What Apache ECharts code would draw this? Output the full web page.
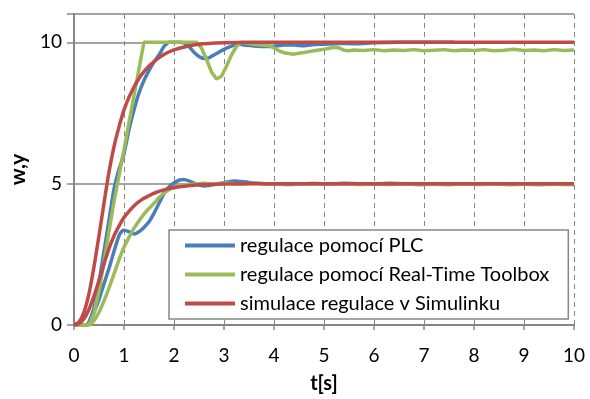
<!DOCTYPE html>
<html>
<head>
<meta charset="utf-8">
<script src="https://cdn.jsdelivr.net/npm/echarts@6/dist/echarts.min.js"></script>
<style>
  html, body { margin: 0; padding: 0; background: #fff; }
  #chart { width: 590px; height: 399px; }
</style>
</head>
<body>
<div id="chart"></div>
<script>
// series names (legend)
const NAME_PLC = "regulace pomocí PLC";
const NAME_RTT = "regulace pomocí Real-Time Toolbox";
const NAME_SIM = "simulace regulace v Simulinku";

// axis ticks
const X_TICKS = [0, 1, 2, 3, 4, 5, 6, 7, 8, 9, 10];
const Y_TICKS = [0, 5, 10];

// [t, value] pairs
const PLC_10 = [
  [0, 0], [0.25, 0], [0.3, 0.1], [0.4, 0.6], [0.5, 1.5], [0.6, 2.6], [0.7, 3.7],
  [0.8, 4.8], [0.9, 5.5], [1.0, 6.05], [1.1, 6.9], [1.2, 7.6], [1.3, 8.2],
  [1.4, 8.65], [1.5, 9.0], [1.6, 9.3], [1.7, 9.55], [1.8, 9.85], [1.9, 10],
  [2.0, 10], [2.1, 10], [2.2, 9.98], [2.3, 9.85], [2.4, 9.65], [2.5, 9.5],
  [2.6, 9.43], [2.7, 9.45], [2.8, 9.55], [2.9, 9.65], [3.0, 9.75], [3.1, 9.83],
  [3.2, 9.9], [3.3, 9.94], [3.4, 9.9], [3.6, 9.87], [3.8, 9.85], [4.0, 9.86],
  [4.2, 9.9], [4.4, 9.9], [4.6, 9.88], [4.8, 9.92], [5.0, 9.93], [5.3, 9.96],
  [5.6, 9.95], [6.0, 9.98], [6.5, 10], [7.0, 10], [7.6, 10]
];
const PLC_5 = [
  [0, 0], [0.25, 0], [0.3, 0.08], [0.4, 0.45], [0.5, 0.9], [0.6, 1.45], [0.7, 2.0],
  [0.8, 2.6], [0.9, 3.15], [0.95, 3.3], [1.0, 3.35], [1.1, 3.3], [1.2, 3.22],
  [1.3, 3.3], [1.4, 3.45], [1.5, 3.65], [1.6, 3.95], [1.7, 4.3], [1.8, 4.65],
  [1.9, 4.88], [2.0, 5.02], [2.1, 5.12], [2.2, 5.15], [2.3, 5.1], [2.4, 5.02],
  [2.5, 4.96], [2.6, 4.92], [2.7, 4.93], [2.8, 4.97], [2.9, 5.0], [3.0, 5.03],
  [3.1, 5.07], [3.2, 5.09], [3.3, 5.08], [3.4, 5.07], [3.5, 5.04], [3.7, 5.01],
  [3.9, 4.99], [4.1, 4.98], [4.3, 4.97], [4.5, 4.99], [4.8, 5.0], [5.1, 4.99],
  [5.4, 5.01], [5.7, 5.0], [6.0, 4.99], [6.3, 5.01], [6.6, 5.0], [6.9, 4.99],
  [7.2, 5.0], [7.6, 5.0]
];
const RTT_10 = [
  [0, 0], [0.3, 0], [0.4, 0.4], [0.5, 1.2], [0.6, 2.2], [0.7, 3.3], [0.8, 4.35],
  [0.9, 5.27], [1.0, 6.2], [1.1, 7.15], [1.2, 8.1], [1.3, 9.05], [1.4, 10],
  [2.0, 10], [2.45, 10], [2.55, 9.8], [2.65, 9.4], [2.75, 8.95], [2.85, 8.7],
  [2.95, 8.8], [3.05, 9.15], [3.15, 9.55], [3.25, 9.85], [3.35, 10], [3.6, 9.93],
  [3.9, 9.88], [4.0, 9.8], [4.1, 9.7], [4.2, 9.63], [4.3, 9.6], [4.4, 9.58],
  [4.5, 9.61], [4.6, 9.64], [4.7, 9.67], [4.8, 9.7], [4.9, 9.73], [5.0, 9.75],
  [5.1, 9.79], [5.2, 9.82], [5.3, 9.8], [5.4, 9.72], [5.5, 9.7], [5.6, 9.73],
  [5.8, 9.71], [6.0, 9.74], [6.2, 9.7], [6.4, 9.73], [6.6, 9.71], [6.8, 9.74],
  [7.0, 9.7], [7.2, 9.72], [7.4, 9.74], [7.6, 9.7], [7.8, 9.73], [8.0, 9.71],
  [8.2, 9.74], [8.4, 9.7], [8.6, 9.72], [8.8, 9.75], [9.0, 9.71], [9.2, 9.73],
  [9.4, 9.7], [9.6, 9.74], [9.8, 9.71], [10, 9.73]
];
const RTT_5 = [
  [0, 0], [0.3, 0], [0.4, 0.15], [0.5, 0.45], [0.6, 0.85], [0.7, 1.3], [0.8, 1.8],
  [0.9, 2.3], [1.0, 2.75], [1.1, 3.1], [1.2, 3.42], [1.3, 3.68], [1.4, 3.92],
  [1.5, 4.12], [1.6, 4.3], [1.7, 4.5], [1.8, 4.66], [1.9, 4.78], [2.0, 4.87],
  [2.2, 4.95], [2.4, 4.98], [2.6, 5.01], [2.8, 4.99], [3.0, 5.02], [3.3, 4.99],
  [3.6, 5.01], [3.9, 4.98], [4.2, 5.0], [4.5, 4.98], [4.8, 5.01], [5.1, 4.98],
  [5.4, 5.0], [5.7, 4.97], [6.0, 4.99], [6.3, 4.97], [6.6, 4.99], [6.9, 4.96],
  [7.2, 4.98], [7.5, 4.96], [7.8, 4.99], [8.1, 4.97], [8.4, 4.99], [8.7, 4.96],
  [9.0, 4.98], [9.3, 4.96], [9.6, 4.98], [10, 4.96]
];
const SIM_10 = [
  [0, 0], [0.1, 0.1], [0.2, 0.45], [0.3, 1.1], [0.4, 2.05], [0.5, 3.15], [0.6, 4.3],
  [0.7, 5.4], [0.8, 6.3], [0.9, 7.0], [1.0, 7.6], [1.1, 8.05], [1.2, 8.42],
  [1.3, 8.72], [1.4, 8.96], [1.5, 9.15], [1.6, 9.32], [1.8, 9.57], [2.0, 9.73],
  [2.25, 9.85], [2.5, 9.93], [3.0, 9.98], [3.5, 10], [4.0, 10], [10, 10]
];
const SIM_5 = [
  [0, 0], [0.1, 0.05], [0.2, 0.22], [0.3, 0.55], [0.4, 1.02], [0.5, 1.57], [0.6, 2.15],
  [0.7, 2.7], [0.8, 3.15], [0.9, 3.5], [1.0, 3.8], [1.1, 4.02], [1.2, 4.21],
  [1.3, 4.36], [1.4, 4.48], [1.5, 4.57], [1.6, 4.66], [1.8, 4.78], [2.0, 4.86],
  [2.25, 4.92], [2.5, 4.96], [3.0, 4.99], [3.5, 5], [4.0, 5], [10, 5]
];

const BLUE = "#4a7ebb";
const GREEN = "#9bbb59";
const RED = "#be4b48";
const GRID_GRAY = "#868686";
const FONT = "Lato, 'Open Sans', sans-serif";

function line(name, data, color, smooth) {
  return {
    name: name,
    type: "line",
    data: data,
    color: color,
    symbol: "none",
    smooth: smooth,
    lineStyle: { width: 3.5, color: color },
    animation: false
  };
}

const chart = echarts.init(document.getElementById("chart"), null, { renderer: "canvas" });

chart.setOption({
  backgroundColor: "#fff",
  animation: false,
  grid: { left: 72, right: 16, top: 14, bottom: 74, containLabel: false },
  xAxis: {
    type: "value",
    min: X_TICKS[0],
    max: X_TICKS[X_TICKS.length - 1],
    interval: 1,
    name: "t[s]",
    nameLocation: "middle",
    nameGap: 49,
    nameTextStyle: { fontFamily: FONT, fontSize: 20, fontWeight: "bold", color: "#000" },
    axisLine: { lineStyle: { color: GRID_GRAY, width: 2 } },
    axisTick: { show: true, length: 5, lineStyle: { color: GRID_GRAY, width: 1.5 } },
    axisLabel: { margin: 21, fontFamily: FONT, fontSize: 19, color: "#000" },
    splitLine: { show: true, lineStyle: { color: GRID_GRAY, width: 1, type: [5, 4] } }
  },
  yAxis: {
    type: "value",
    min: Y_TICKS[0],
    max: 11,
    interval: Y_TICKS[1] - Y_TICKS[0],
    name: "w,y",
    nameLocation: "middle",
    nameRotate: 90,
    nameGap: 27,
    nameTextStyle: { fontFamily: FONT, fontSize: 21, fontWeight: "bold", color: "#000" },
    axisLine: { show: true, lineStyle: { color: GRID_GRAY, width: 2 } },
    axisTick: { show: true, length: 7, lineStyle: { color: GRID_GRAY, width: 1.5 } },
    axisLabel: { margin: 12, fontFamily: FONT, fontSize: 19, color: "#000",
      formatter: (v) => (Y_TICKS.indexOf(v) >= 0 ? String(v) : "") },
    splitLine: { show: true, lineStyle: { color: GRID_GRAY, width: 1.5 } }
  },
  legend: {
    data: [NAME_PLC, NAME_RTT, NAME_SIM],
    orient: "vertical",
    left: 169,
    top: 230,
    padding: [5, 19, 5, 16],
    itemGap: 8,
    itemWidth: 50,
    itemHeight: 4,
    icon: "rect",
    backgroundColor: "#fff",
    borderColor: GRID_GRAY,
    borderWidth: 1.5,
    borderRadius: 0,
    selectedMode: false,
    textStyle: { fontFamily: FONT, fontSize: 20, color: "#000", lineHeight: 21 }
  },
  series: [
    line(NAME_PLC, PLC_10, BLUE, 0.15),
    line(NAME_PLC, PLC_5, BLUE, 0.15),
    line(NAME_RTT, RTT_10, GREEN, false),
    line(NAME_RTT, RTT_5, GREEN, 0.15),
    line(NAME_SIM, SIM_10, RED, 0.3),
    line(NAME_SIM, SIM_5, RED, 0.3)
  ]
});
</script>
</body>
</html>
